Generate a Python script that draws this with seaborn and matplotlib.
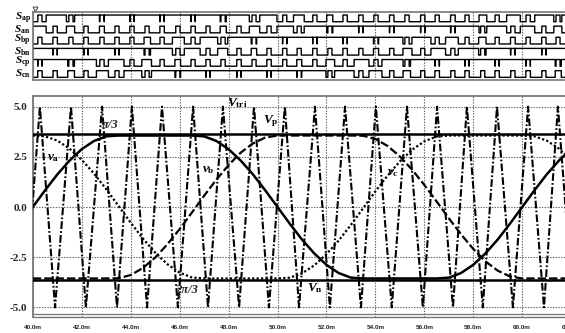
import numpy as np
import pandas as pd
import matplotlib
matplotlib.use("Agg")
import matplotlib.pyplot as plt
import seaborn as sns

# ---------------- data ----------------
t_ref = [40.0, 40.5, 41.0, 41.5, 42.0, 42.5, 43.0, 43.5, 44.0, 44.5, 45.0, 45.5,
         46.0, 46.5, 47.0, 47.5, 48.0, 48.5, 49.0, 49.5, 50.0, 50.5, 51.0, 51.5,
         52.0, 52.5, 53.0, 53.5, 54.0, 54.5, 55.0, 55.5, 56.0, 56.5, 57.0, 57.5,
         58.0, 58.5, 59.0, 59.5, 60.0, 60.5, 61.0, 61.5, 62.0]
va = [0.00, 0.83, 1.62, 2.31, 2.88, 3.29, 3.52, 3.56, 3.56, 3.56, 3.56, 3.56,
      3.56, 3.56, 3.52, 3.29, 2.88, 2.31, 1.62, 0.83, 0.00, -0.83, -1.62, -2.31,
      -2.88, -3.29, -3.52, -3.56, -3.56, -3.56, -3.56, -3.56, -3.56, -3.56, -3.52, -3.29,
      -2.88, -2.31, -1.62, -0.83, 0.00, 0.83, 1.62, 2.31, 2.88]
vb = [-3.56, -3.56, -3.56, -3.56, -3.56, -3.56, -3.56, -3.55, -3.39, -3.04, -2.52, -1.86,
      -1.10, -0.28, 0.56, 1.36, 2.09, 2.71, 3.17, 3.46, 3.56, 3.56, 3.56, 3.56,
      3.56, 3.56, 3.56, 3.55, 3.39, 3.04, 2.52, 1.86, 1.10, 0.28, -0.56, -1.36,
      -2.09, -2.71, -3.17, -3.46, -3.56, -3.56, -3.56, -3.56, -3.56]
vc = [3.56, 3.52, 3.31, 2.91, 2.35, 1.67, 0.89, 0.06, -0.78, -1.57, -2.27, -2.85,
      -3.27, -3.51, -3.56, -3.56, -3.56, -3.56, -3.56, -3.56, -3.56, -3.52, -3.31, -2.91,
      -2.35, -1.67, -0.89, -0.06, 0.78, 1.57, 2.27, 2.85, 3.27, 3.51, 3.56, 3.56,
      3.56, 3.56, 3.56, 3.56, 3.56, 3.52, 3.31, 2.91, 2.35]
# triangular carrier vertices (ms, value)
tri_t = [39.67, 40.29, 40.91, 41.56, 42.17, 42.83, 43.44, 44.05, 44.67, 45.28,
         45.93, 46.55, 47.16, 47.77, 48.43, 49.04, 49.65, 50.30, 50.88, 51.53,
         52.14, 52.76, 53.41, 54.02, 54.67, 55.29, 55.94, 56.52, 57.17, 57.74,
         58.39, 58.97, 59.62, 60.24, 60.89, 61.46, 62.08, 62.70]
tri_v = [-5, 5, -5, 5, -5, 5, -5, 5, -5, 5, -5, 5, -5, 5, -5, 5, -5, 5, -5, 5,
         -5, 5, -5, 5, -5, 5, -5, 5, -5, 5, -5, 5, -5, 5, -5, 5, -5, 5]
vp_level = 3.63
vn_level = -3.63
y_ticks = [5.0, 2.5, 0.0, -2.5, -5.0]
y_tick_labels = ["5.0", "2.5", "0.0", "-2.5", "-5.0"]
x_ticks = [40, 42, 44, 46, 48, 50, 52, 54, 56, 58, 60, 62]
x_tick_labels = ["40.0m", "42.0m", "44.0m", "46.0m", "48.0m", "50.0m",
                 "52.0m", "54.0m", "56.0m", "58.0m", "60.0m", "62.0m"]
row_names = ["ap", "an", "bp", "bn", "cp", "cn"]

# ---------------- style ----------------
sns.set_style("white")
plt.rcParams['font.family'] = ['Liberation Serif', 'DejaVu Sans']
plt.rcParams['mathtext.fontset'] = 'custom'
plt.rcParams['mathtext.it'] = 'Liberation Serif:italic:bold'
plt.rcParams['mathtext.rm'] = 'Liberation Serif:bold'
plt.rcParams['mathtext.bf'] = 'Liberation Serif:bold'
plt.rcParams['lines.scale_dashes'] = False

W, H = 565.0, 333.0
fig = plt.figure(figsize=(W / 100, H / 100), dpi=100)
left = 32.8 / W
axw = (580 - 32.8) / W
ax = fig.add_axes([left, (H - 317) / H, axw, (317 - 96) / H])
axt = fig.add_axes([left, (H - 80) / H, axw, (80 - 11.7) / H])
x_max = 40 + (580 - 32.8) / 24.47

grid_kw = dict(color="#666666", linestyle=(0, (1.0, 1.0)), linewidth=0.8)
spine_col = "#777777"

# ---------------- bottom plot ----------------
t_arr = np.array(t_ref)
sns.lineplot(x=tri_t, y=tri_v, ax=ax, color="black", lw=1.5, estimator=None, sort=False,
             linestyle=(0, (5.5, 1.6, 1.2, 1.6)), zorder=3)
sns.lineplot(x=t_arr, y=np.full(len(t_arr), vp_level), ax=ax, color="black", lw=1.8,
             estimator=None, sort=False, zorder=4)
sns.lineplot(x=t_arr, y=np.full(len(t_arr), vn_level), ax=ax, color="black", lw=1.8,
             estimator=None, sort=False, zorder=4)
sns.lineplot(x=t_arr, y=va, ax=ax, color="black", lw=1.8, estimator=None, sort=False, zorder=4)
sns.lineplot(x=t_arr, y=vb, ax=ax, color="black", lw=1.6, estimator=None, sort=False,
             linestyle=(0, (6, 2.2)), zorder=4)
sns.lineplot(x=t_arr, y=vc, ax=ax, color="black", lw=1.6, estimator=None, sort=False,
             linestyle=(0, (1.6, 1.6)), zorder=4)

ax.set_xlim(40, x_max)
ax.set_ylim(-5.48, 5.53)
ax.set_yticks(y_ticks)
ax.set_yticklabels(y_tick_labels, fontsize=8, fontweight="bold", family="Liberation Serif")
ax.set_xticks(x_ticks)
ax.set_xticklabels(x_tick_labels, fontsize=4.6, fontweight="bold", family="Liberation Sans")
ax.tick_params(axis="y", length=0, pad=4)
ax.tick_params(axis="x", length=4, width=0.6, color="#777777", pad=1.5)
ax.grid(True, **grid_kw)
ax.set_axisbelow(True)
ax.spines["right"].set_visible(False)
for s in ["left", "bottom", "top"]:
    ax.spines[s].set_color(spine_col)
    ax.spines[s].set_linewidth(1.3)
ax.spines["bottom"].set_linewidth(1.0)
ax.axhline(-5.48 + 2.6 / 20.06, color=spine_col, lw=0.9, zorder=1)
ax.set_xlabel("")
ax.set_ylabel("")

lab = dict(color="black", fontsize=9.5, zorder=6)
ax.text(47.94, 5.17, r"$V_{\mathrm{tri}}$", ha="left", va="center", **lab)
ax.text(49.41, 4.27, r"$V_{\mathrm{p}}$", ha="left", va="center", **lab)
ax.text(51.22, -4.05, r"$V_{\mathrm{n}}$", ha="left", va="center", **lab)
ax.text(40.6, 2.45, r"$v_{\mathrm{a}}$", ha="left", va="center", **lab)
ax.text(46.93, 1.83, r"$v_{\mathrm{b}}$", ha="left", va="center", **lab)
ax.text(54.47, 1.68, r"$v_{\mathrm{c}}$", ha="left", va="center", **lab)
ax.text(42.82, 4.07, "π/3", ha="left", va="center", fontsize=9, fontstyle="italic",
        fontweight="bold", family="Liberation Serif", zorder=6)
ax.text(45.8, -4.15, "2π/3", ha="left", va="center", fontsize=9, fontstyle="italic",
        fontweight="bold", family="Liberation Serif", zorder=6)

# ---------------- switching signals (top plot) ----------------
tf = np.arange(40.0, x_max, 0.002)
tri_f = np.interp(tf, tri_t, tri_v)
shoot = (tri_f > vp_level) | (tri_f < vn_level)
refs = [va, vb, vc]
rows = []
for ref in refs:
    r = np.interp(tf, t_ref, ref)
    rows.append(((r > tri_f) | shoot).astype(float))
    rows.append(((r < tri_f) | shoot).astype(float))

for k, (name, sig) in enumerate(zip(row_names, rows)):
    base = 5 - k
    sns.lineplot(x=tf, y=base + 0.6 * sig, ax=axt, color="black", lw=1.0,
                 estimator=None, sort=False, drawstyle="steps-post")
    axt.text(-0.004, base + 0.32, r"$S_{\mathrm{%s}}$" % name, transform=axt.get_yaxis_transform(),
             ha="right", va="center", fontsize=8, color="black")

axt.set_xlim(40, x_max)
axt.set_ylim(-0.24, 5.9)
axt.set_xticks(x_ticks)
axt.set_yticks([])
axt.set_xticklabels([])
axt.tick_params(axis="x", length=0)
axt.grid(True, axis="x", **grid_kw)
axt.set_axisbelow(True)
axt.spines["right"].set_visible(False)
for s in ["left", "bottom", "top"]:
    axt.spines[s].set_color(spine_col)
    axt.spines[s].set_linewidth(1.2)
axt.set_xlabel("")
axt.set_ylabel("")
axt.plot([40.1], [6.15], marker="v", ms=3.5, mfc="white", mec="#555555", mew=0.8,
         clip_on=False)

fig.savefig("out.png", dpi=100)
